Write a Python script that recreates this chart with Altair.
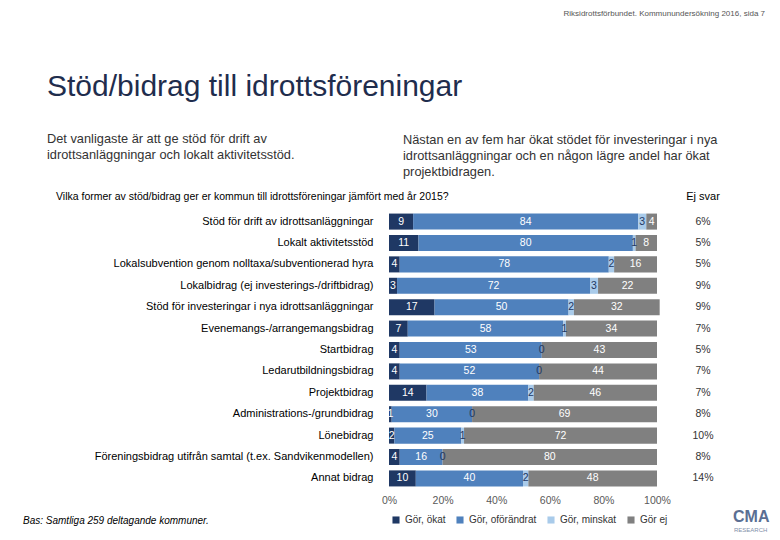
import altair as alt
import pandas as pd

categories = [
    "Stöd för drift av idrottsanläggningar",
    "Lokalt aktivitetsstöd",
    "Lokalsubvention genom nolltaxa/subventionerad hyra",
    "Lokalbidrag (ej investerings-/driftbidrag)",
    "Stöd för investeringar i nya idrottsanläggningar",
    "Evenemangs-/arrangemangsbidrag",
    "Startbidrag",
    "Ledarutbildningsbidrag",
    "Projektbidrag",
    "Administrations-/grundbidrag",
    "Lönebidrag",
    "Föreningsbidrag utifrån samtal (t.ex. Sandvikenmodellen)",
    "Annat bidrag",
]
series = ["Gör, ökat", "Gör, oförändrat", "Gör, minskat", "Gör ej"]
okat = [9, 11, 4, 3, 17, 7, 4, 4, 14, 1, 2, 4, 10]
oforandrat = [84, 80, 78, 72, 50, 58, 53, 52, 38, 30, 25, 16, 40]
minskat = [3, 1, 2, 3, 2, 1, 0, 0, 2, 0, 1, 0, 2]
gor_ej = [4, 8, 16, 22, 32, 34, 43, 44, 46, 69, 72, 80, 48]
ej_svar = ["6%", "5%", "5%", "9%", "9%", "7%", "5%", "7%", "7%", "8%", "10%", "8%", "14%"]
colors = ["#1F3864", "#4F81BD", "#A9CBEA", "#808080"]
label_colors = ["#FFFFFF", "#FFFFFF", "#1F3864", "#FFFFFF"]

rows = []
for i, c in enumerate(categories):
    for j, (s, vals) in enumerate(zip(series, [okat, oforandrat, minskat, gor_ej])):
        rows.append({"cat": c, "series": s, "value": vals[i], "order": j,
                     "lc": label_colors[j]})
df = pd.DataFrame(rows)
ej_df = pd.DataFrame({"cat": categories, "ej": ej_svar})

FONT = "Liberation Sans"
W, H = 268, 278

yenc = alt.Y("cat:N", sort=categories,
             scale=alt.Scale(paddingInner=0.25, paddingOuter=0.12),
             axis=alt.Axis(title=None, domain=False, ticks=False, labelPadding=16,
                           labelFontSize=11, labelColor="#000000", labelLimit=400,
                           labelFont=FONT))

base = alt.Chart(df).transform_stack(
    stack="value", groupby=["cat"], sort=[alt.SortField("order")], as_=["x0", "x1"]
).transform_calculate(mid="(datum.x0 + datum.x1) / 2")

bars = base.mark_bar().encode(
    y=yenc,
    x=alt.X("x0:Q", scale=alt.Scale(domain=[0, 100], nice=False),
            axis=alt.Axis(title=None, values=[0, 20, 40, 60, 80, 100],
                          labelExpr="datum.value + '%'", grid=False, domain=False,
                          ticks=False, labelFontSize=10.5, labelColor="#595959",
                          labelPadding=6, labelFont=FONT, labelFlush=False)),
    x2="x1:Q",
    color=alt.Color("series:N", scale=alt.Scale(domain=series, range=colors),
                    sort=series,
                    legend=alt.Legend(title=None, orient="none", direction="horizontal",
                                      legendX=2, legendY=304, symbolType="square",
                                      symbolSize=50, symbolStrokeWidth=0,
                                      labelFontSize=10, labelColor="#333333",
                                      labelFont=FONT, columnPadding=9,
                                      symbolOffset=0, labelOffset=4)),
    order=alt.Order("order:Q"),
)

labels = base.mark_text(fontSize=10.5, font=FONT, baseline="middle").encode(
    y=alt.Y("cat:N", sort=categories),
    x=alt.X("mid:Q"),
    text=alt.Text("value:Q"),
    color=alt.Color("lc:N", scale=None),
)

ej = alt.Chart(ej_df).mark_text(fontSize=10.5, font=FONT, color="#333333",
                                baseline="middle").encode(
    y=alt.Y("cat:N", sort=categories),
    x=alt.value(314),
    text="ej:N",
)

def txt(s, x, y, size, color="#333333", align="left", weight="normal", style="normal"):
    return alt.Chart(pd.DataFrame({"t": [s]})).mark_text(
        align=align, baseline="middle", fontSize=size, font=FONT, color=color,
        fontWeight=weight, fontStyle=style
    ).encode(x=alt.value(x), y=alt.value(y), text="t:N")

OX, OY = 389, 211
texts = [
    txt("Riksidrottsförbundet. Kommunundersökning 2016, sida 7", 765 - OX, 14 - OY, 8, "#555555", "right"),
    txt("Stöd/bidrag till idrottsföreningar", 47 - OX, 87 - OY, 30, "#1F2D4D"),
    txt("Det vanligaste är att ge stöd för drift av", 47 - OX, 139 - OY, 12.8, "#333333"),
    txt("idrottsanläggningar och lokalt aktivitetsstöd.", 47 - OX, 155 - OY, 12.8, "#333333"),
    txt("Nästan en av fem har ökat stödet för investeringar i nya", 403 - OX, 140 - OY, 12.8, "#333333"),
    txt("idrottsanläggningar och en någon lägre andel har ökat", 403 - OX, 156 - OY, 12.8, "#333333"),
    txt("projektbidragen.", 403 - OX, 172 - OY, 12.8, "#333333"),
    txt("Vilka former av stöd/bidrag ger er kommun till idrottsföreningar jämfört med år 2015?", 56 - OX, 197 - OY, 10.5, "#000000"),
    txt("Ej svar", 703 - OX, 197 - OY, 11, "#000000", "center"),
    txt("Bas: Samtliga 259 deltagande kommuner.", 23 - OX, 521 - OY, 10, "#000000", style="italic"),
    txt("CMA", 733 - OX, 517 - OY, 16, "#5B6F93", weight="bold"),
    txt("RESEARCH", 734 - OX, 530 - OY, 6, "#7F8FAA"),
]

chart = alt.layer(bars, labels, ej, *texts).properties(
    width=W, height=H,
    autosize=alt.AutoSizeParams(type="none"),
    padding={"left": OX - 8, "top": OY - 8, "right": 764 - (OX - 8) - W, "bottom": 524 - (OY - 8) - H},
    background="white",
).configure_view(stroke=None)

chart.save("out.html", embed_options={"renderer": "svg", "actions": False})
